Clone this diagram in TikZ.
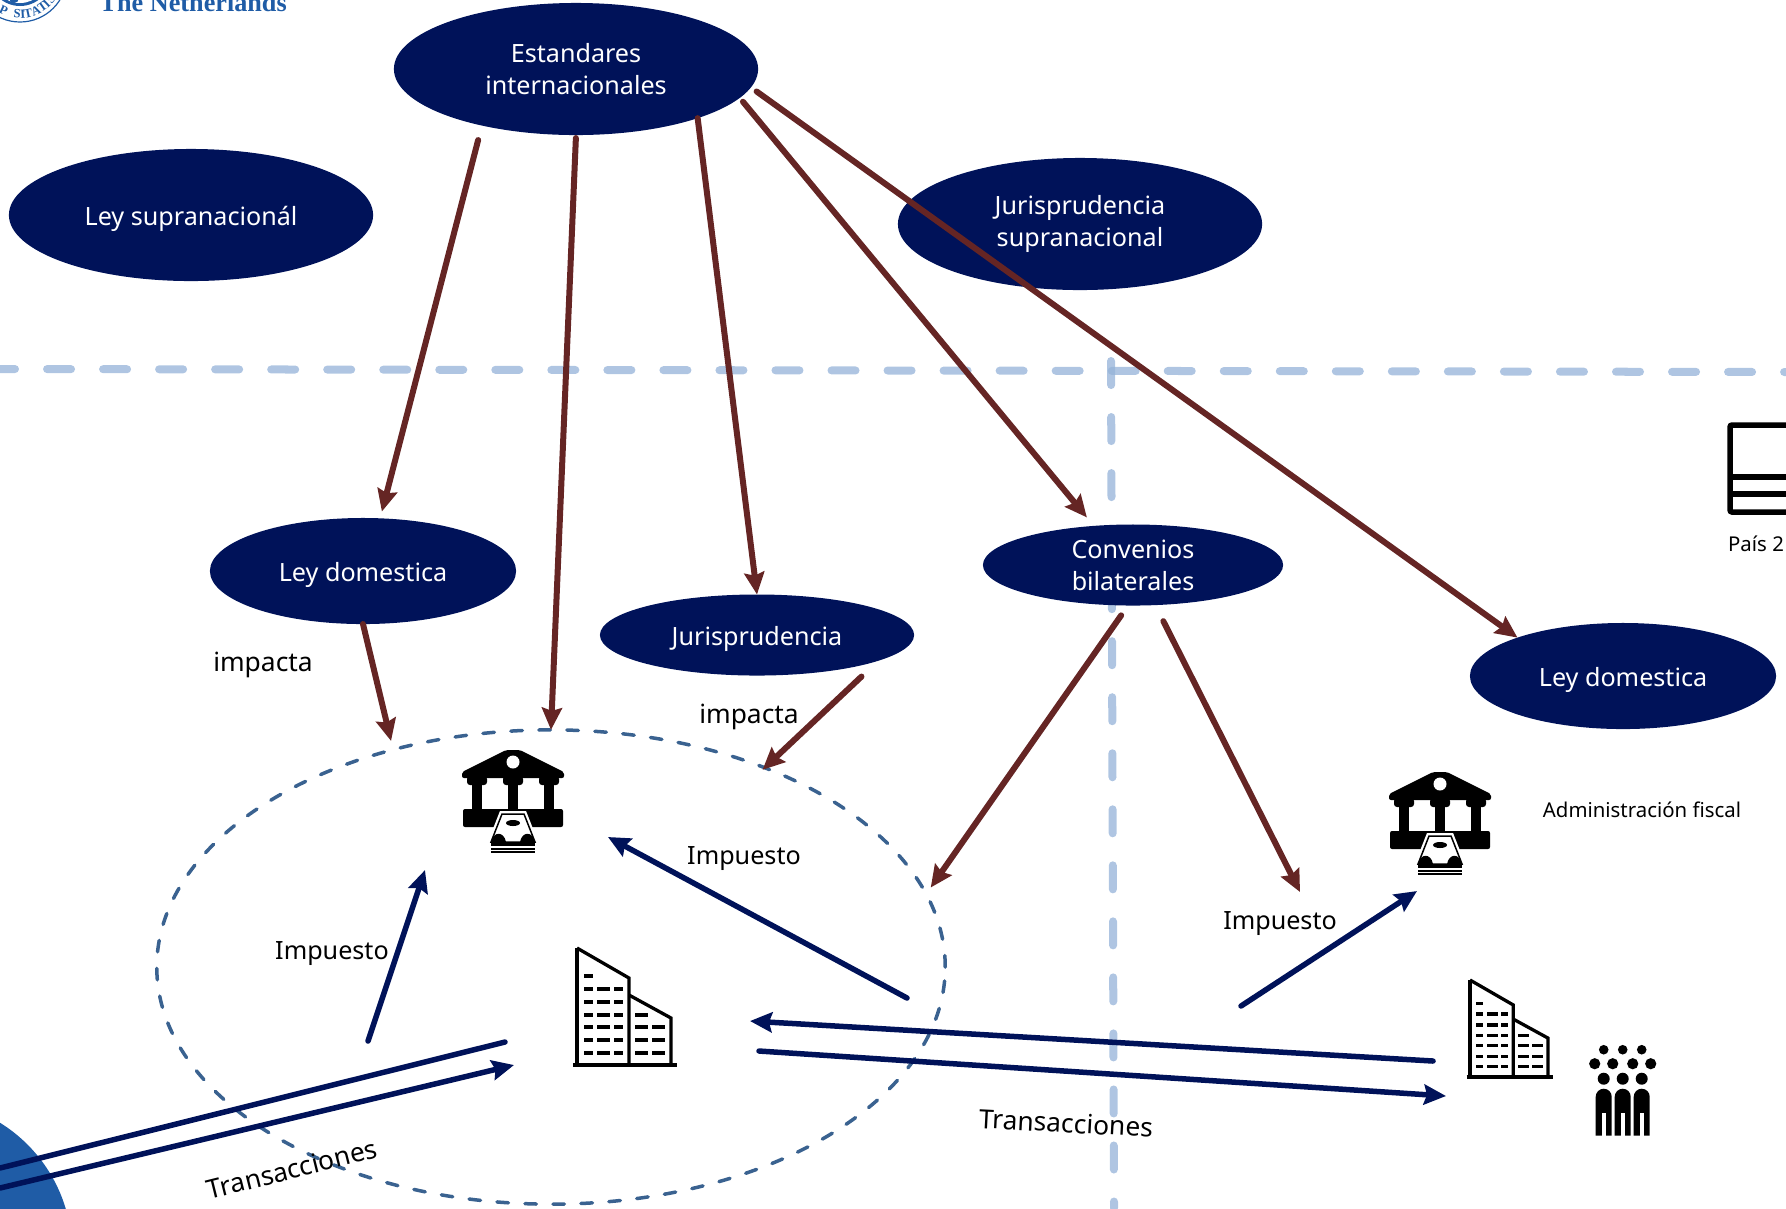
\documentclass[tikz,border=0pt]{standalone}
\usepackage{fontspec}
\setmainfont{Noto Sans}
\newfontfamily\sealfont{Liberation Serif}
\usetikzlibrary{arrows.meta,shapes.geometric}
\definecolor{navyFill}{HTML}{001259}
\definecolor{impactRed}{HTML}{652524}
\definecolor{borderBlue}{HTML}{94B2D8}
\definecolor{zoneBlue}{HTML}{3A6290}
\definecolor{sealBlue}{HTML}{1F5CA6}
\tikzset{
  ovalNode/.style={ellipse, fill=navyFill, text=white, align=center, inner sep=0pt, outer sep=0pt,
    font=\fontsize{7.15}{9.1}\selectfont},
  oneLine/.style={execute at begin node={\rule{0pt}{7.4pt}}},
  twoLines/.style={execute at begin node={\vspace*{1.6pt}}},
  ovalLarge/.style={ovalNode, minimum width=3.64cm, minimum height=1.32cm},
  ovalMedium/.style={ovalNode, oneLine, minimum width=3.06cm, minimum height=1.06cm},
  ovalFlat/.style={ovalNode, minimum width=3.06cm, minimum height=0.81cm},
  impactArrow/.style={->, draw=impactRed, line width=0.06cm, line cap=round},
  flowArrow/.style={->, draw=navyFill, line width=0.055cm, line cap=round},
  flowLine/.style={draw=navyFill, line width=0.055cm, line cap=round},
  borderLine/.style={draw=borderBlue, draw opacity=0.75, line width=0.08cm, line cap=round,
    dash pattern=on 0.24cm off 0.32cm},
  labelText/.style={inner sep=0pt, yshift=-0.03cm, font=\fontsize{7.15}{9.1}\selectfont},
  labelWide/.style={inner sep=0pt, yshift=-0.03cm, font=\fontsize{7.5}{9.1}\selectfont},
  smallText/.style={inner sep=0pt, font=\fontsize{5.8}{7}\selectfont}
}
\newcommand{\bankIcon}[2]{%
  \begin{scope}[shift={(#1, #2)}]%
    \fill[rounded corners=0.02cm] (-7,0) -- (7,0) -- (51,22) -- (51,28) -- (-51,28) -- (-51,22) -- cycle;
    \fill[white] (0,12) circle (6.5);
    \foreach \colx in {-36,0,36} {
      \fill (\colx-5,28) rectangle (\colx+5,61);
      \fill[rounded corners=0.03cm] (\colx-10,26) rectangle (\colx+10,35);
    }
    \fill[rounded corners=0.02cm] (-50,59) rectangle (50,77);
    % banknotes
    \filldraw[fill=white, draw=white, line width=0.06cm] (-11,64) -- (11,64) -- (22,92) -- (-22,92) -- cycle;
    \draw[line width=0.015cm] (-11,64) -- (11,64) -- (22,92) -- (-22,92) -- cycle;
    \fill (0,73) ellipse (7 and 3);
    \fill (-21.5,92) .. controls (-20,81) and (-9,81) .. (-7,92) -- cycle;
    \fill (21.5,92) .. controls (20,81) and (9,81) .. (7,92) -- cycle;
    \fill (-22,92) rectangle (22,96);
    \fill (-22,97.5) rectangle (22,100);
    \fill (-22,101) rectangle (22,103);
  \end{scope}%
}
\newcommand{\buildingIcon}[3]{%
  \begin{scope}[shift={(#1, #2)}, scale=#3]%
    \draw[line width=0.033cm] (0,0) -- (52,30) -- (52,117);
    \draw[line width=0.033cm] (0,0) -- (0,117);
    \draw[line width=0.033cm] (52,47) -- (94,70) -- (94,117);
    \draw[line width=0.033cm] (-4,117) -- (100,117);
    \fill (7.3,26) rectangle (16,30);
    \foreach \winy in {41,54,67,79,92,104.5} {
      \fill (7.3,\winy-2) rectangle (16,\winy+2);
      \fill (20.3,\winy-2) rectangle (33.3,\winy+2);
      \fill (37.3,\winy-2) rectangle (46,\winy+2);
    }
    \foreach \winy in {67,79,92,104.5} {
      \fill (57.7,\winy-2) rectangle (70.7,\winy+2);
    }
    \foreach \winy in {79,92,104.5} {
      \fill (75,\winy-2) rectangle (87.7,\winy+2);
    }
  \end{scope}%
}
\newcommand{\peopleIcon}[2]{%
  \begin{scope}[shift={(#1, #2)}]%
    \foreach \dotx in {-19,0,19} {
      \fill (\dotx,0) circle (4.8);
      \fill (\dotx,29) circle (6);
      \fill (\dotx-8,86) -- (\dotx-8,47) arc (180:360:8) -- (\dotx+8,86) -- cycle;
      \fill[white] (\dotx-2,63) rectangle (\dotx+2,87);
    }
    \foreach \dotx in {-28,-10,10,28} {
      \fill (\dotx,14) circle (5.6);
    }
  \end{scope}%
}

\begin{document}
\begin{tikzpicture}[x=0.01cm, y=-0.01cm, >={Stealth[length=0.22cm,width=0.2cm,inset=0.03cm]}]
  \clip (0,0) rectangle (1786,1208);

  % Seal and name at the top left
  \draw[sealBlue, line width=0.012cm] (20,-25) circle (47);
  \fill[sealBlue] (20,-25) circle (31);
  \fill[white] (20,-25) circle (28);
  \fill[sealBlue] (14,-2) circle (5);
  \foreach \sealch/\sealang in {P/245,S/266,I/274,T/282,A/294,T/305,I/313,S/322} {
    \node[text=sealBlue, inner sep=0pt, rotate=\sealang+90, font=\sealfont\bfseries\fontsize{3.6}{4}\selectfont]
      (seal\sealang) at ({20+39*cos(\sealang)}, {-25-39*sin(\sealang)}) {\sealch};
  }
  \node[text=sealBlue, inner sep=0pt, anchor=base west, font=\sealfont\bfseries\fontsize{7.45}{9}\selectfont]
    (uniName) at (99,11) {The Netherlands};
  \fill[sealBlue] (-80,1252) circle (152);

  % Border lines
  \coordinate (borderLeft) at (0,369);
  \coordinate (borderRight) at (1786,372);
  \coordinate (borderTop) at (1111,361);
  \coordinate (borderBottom) at (1114,1208);
  \draw[borderLine, dash phase=0.09cm] (borderLeft) -- (borderRight);
  \draw[borderLine] (borderTop) -- (borderBottom);

  % Country zone
  \node[ellipse, draw=zoneBlue, line width=0.035cm, dash pattern=on 0.115cm off 0.165cm, line cap=round,
    minimum width=7.88cm, minimum height=4.74cm, inner sep=0pt, outer sep=0pt]
    (zone) at (551,967) {};

  % Create the ovals
  \node[ovalLarge, twoLines] (estandares) at (576,69) {Estandares\\internacionales};
  \node[ovalLarge, oneLine] (leySupra) at (191,215) {Ley supranacionál};
  \node[ovalLarge, twoLines] (jurisSupra) at (1080,224) {Jurisprudencia\\supranacional};
  \node[ovalMedium] (leyA) at (363,571) {Ley domestica};
  \node[ovalFlat, oneLine, minimum width=3.14cm] (juris) at (757,635) {Jurisprudencia};
  \node[ovalFlat, twoLines, minimum width=3cm] (convenios) at (1133,565) {Convenios\\bilaterales};
  \node[ovalMedium] (leyB) at (1623,676) {Ley domestica};

  % Connect them using angle anchors
  \coordinate (taxEnd) at (1300,892);
  \draw[impactArrow, shorten <=0.15cm, shorten >=0.07cm] (estandares.211.6) -- (leyA.72);
  \draw[impactArrow, shorten <=0.03cm] (estandares.270) -- (zone.north);
  \draw[impactArrow] (estandares.338) -- (juris.north);
  \draw[impactArrow, shorten <=0.05cm, shorten >=0.11cm] (estandares.350.7) -- (convenios.135.7);
  \draw[impactArrow, shorten <=0.07cm] (estandares.354.2) -- (leyB.160.6);
  \draw[impactArrow, shorten >=0.09cm] (leyA.south) -- (zone.126.5);
  \draw[impactArrow, shorten <=0.23cm, shorten >=-0.03cm] (juris.348.4) -- (zone.43.7);
  \draw[impactArrow, shorten <=0.12cm, shorten >=0.08cm] (convenios.263) -- (zone.11.2);
  \draw[impactArrow, shorten <=0.18cm] (convenios.299.4) -- (taxEnd);

  % Tax and transaction flows
  \coordinate (taxFromA) at (368,1041);
  \coordinate (taxToA) at (425,870);
  \coordinate (taxBackA) at (907,998);
  \coordinate (taxBackTo) at (608,837);
  \coordinate (taxFromB) at (1241,1006);
  \coordinate (taxToB) at (1417,891);
  \coordinate (tradeBackFrom) at (1433,1061);
  \coordinate (tradeBackTo) at (750,1021);
  \coordinate (tradeFrom) at (759,1051);
  \coordinate (tradeTo) at (1446,1096);
  \coordinate (foreignBack) at (0,1168);
  \coordinate (foreignBackEnd) at (505,1042);
  \coordinate (foreignFrom) at (0,1188);
  \coordinate (foreignTo) at (514,1065);
  \draw[flowArrow] (taxFromA) -- (taxToA);
  \draw[flowArrow] (taxBackA) -- (taxBackTo);
  \draw[flowArrow] (taxFromB) -- (taxToB);
  \draw[flowArrow] (tradeBackFrom) -- (tradeBackTo);
  \draw[flowArrow] (tradeFrom) -- (tradeTo);
  \draw[flowLine] (foreignBack) -- (foreignBackEnd);
  \draw[flowArrow] (foreignFrom) -- (foreignTo);

  % Labels
  \node[labelWide] (impactaA) at (263,662) {impacta};
  \node[labelWide] (impactaB) at (749,714) {impacta};
  \node[labelText] (impuestoA) at (332,951) {Impuesto};
  \node[labelText] (impuestoB) at (744,856) {Impuesto};
  \node[labelText] (impuestoC) at (1280,921) {Impuesto};
  \node[labelWide, rotate=-3] (transB) at (1066,1120) {Transacciones};
  \node[labelWide, rotate=14] (transA) at (292,1166) {Transacciones};
  \node[smallText] (adminB) at (1642,810) {Administración fiscal};
  \node[smallText] (paisB) at (1756,544) {País 2};

  % Icons
  \bankIcon{513}{750}
  \bankIcon{1440}{772}
  \buildingIcon{577}{948}{1}
  \buildingIcon{1470}{980}{0.83}
  \peopleIcon{1622.7}{1049.7}
  \draw[line width=0.055cm, rounded corners=0.02cm] (1800,425) -- (1730,425) -- (1730,512) -- (1800,512);
  \draw[line width=0.055cm] (1730,477) -- (1800,477);
  \draw[line width=0.055cm] (1730,494) -- (1800,494);
\end{tikzpicture}
\end{document}
